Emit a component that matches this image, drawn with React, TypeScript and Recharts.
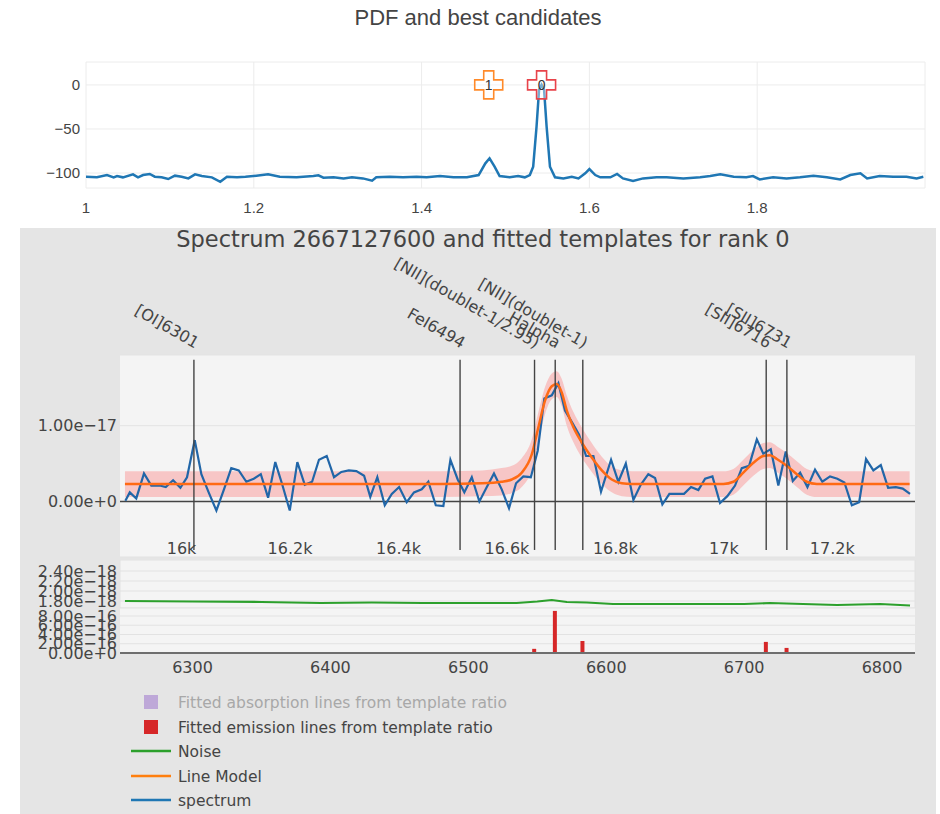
import React from "react";
import {
  ComposedChart, Line, Area, Bar, Scatter, XAxis, YAxis, CartesianGrid, ReferenceLine,
} from "recharts";

// ---- PDF panel ----
const pdfZ = [
  1.0, 1.013, 1.025, 1.033, 1.037, 1.044, 1.056, 1.062, 1.068, 1.076, 1.082, 1.09, 1.098, 1.106,
  1.114, 1.122, 1.13, 1.138, 1.15, 1.16, 1.168, 1.18, 1.19, 1.203, 1.217, 1.231, 1.251, 1.271,
  1.277, 1.283, 1.295, 1.307, 1.317, 1.33, 1.341, 1.346, 1.362, 1.378, 1.394, 1.406, 1.422, 1.438,
  1.454, 1.468, 1.476, 1.481, 1.487, 1.493, 1.505, 1.515, 1.523, 1.529, 1.533, 1.537, 1.54, 1.543,
  1.546, 1.549, 1.553, 1.559, 1.569, 1.579, 1.587, 1.595, 1.6, 1.607, 1.613, 1.625, 1.633, 1.64,
  1.652, 1.664, 1.68, 1.692, 1.712, 1.732, 1.744, 1.756, 1.772, 1.787, 1.795, 1.803, 1.819, 1.835,
  1.851, 1.867, 1.883, 1.899, 1.911, 1.923, 1.931, 1.946, 1.962, 1.978, 1.99, 1.998,
];
const pdfLogP = [
  -104.2, -104.9, -102.3, -104.9, -103.4, -104.9, -101.5, -104.9, -102.3, -101.1, -104.2, -104.9, -106.8, -103.0,
  -104.2, -106.1, -101.5, -103.4, -104.9, -110.0, -104.2, -104.9, -104.2, -103.0, -101.5, -104.2, -104.9, -103.4,
  -102.6, -105.3, -104.9, -106.1, -104.9, -106.1, -108.7, -104.9, -104.2, -104.9, -104.2, -104.9, -103.4, -104.9,
  -104.9, -102.3, -89.0, -83.3, -92.8, -103.4, -104.9, -103.4, -104.9, -102.3, -92.8, -47.3, -5.7, 0,
  -5.7, -47.3, -92.8, -104.9, -106.1, -104.2, -106.1, -100.4, -95.5, -102.3, -104.9, -104.9, -101.1, -106.1,
  -109.1, -106.1, -104.9, -104.9, -106.1, -104.9, -103.4, -101.5, -104.2, -104.9, -103.4, -107.2, -104.9, -106.1,
  -104.9, -103.0, -104.9, -107.2, -102.3, -100.4, -106.1, -103.4, -104.2, -104.2, -106.1, -104.2,
];
const candZ = [1.543, 1.48];
const candLogP = [0, 0];
const candRank = ["0", "1"];
const pdfTicksX = [1, 1.2, 1.4, 1.6, 1.8];
const pdfTicksY = [-100, -50, 0];

// ---- spectrum panel (flux in units of 1e-17) ----
const specWl = [
  6251.3, 6254.5, 6259.2, 6264.8, 6270.1, 6276.2, 6280.6, 6285.9, 6291.2, 6296.0, 6301.6, 6306.4, 6311.7, 6317.3,
  6322.8, 6328.1, 6333.5, 6339.0, 6344.4, 6349.5, 6354.8, 6360.0, 6365.1, 6370.5, 6376.0, 6381.4, 6386.7, 6391.7,
  6397.3, 6402.6, 6407.9, 6413.3, 6418.8, 6424.4, 6428.9, 6434.0, 6439.4, 6444.5, 6449.8, 6455.3, 6460.6, 6466.2,
  6471.0, 6476.4, 6481.9, 6487.0, 6492.3, 6497.1, 6502.5, 6508.0, 6513.4, 6518.6, 6524.2, 6529.5, 6534.6, 6539.9,
  6545.3, 6550.3, 6555.1, 6560.5, 6565.3, 6570.1, 6575.0, 6580.3, 6585.4, 6590.7, 6596.2, 6603.5, 6608.8, 6614.2,
  6619.7, 6625.0, 6630.5, 6635.4, 6640.7, 6645.8, 6651.1, 6656.4, 6661.5, 6666.8, 6671.7, 6677.0, 6682.5, 6687.8,
  6693.4, 6698.3, 6703.6, 6709.2, 6713.9, 6719.3, 6724.8, 6730.2, 6735.3, 6740.6, 6745.9, 6751.4, 6756.7, 6762.3,
  6767.6, 6772.7, 6778.1, 6783.4, 6788.4, 6793.7, 6799.1, 6804.4, 6810.0, 6815.0, 6820.3,
];
const specFlux = [
  0.01, 0.12, 0.04, 0.37, 0.21, 0.21, 0.19, 0.28, 0.18, 0.32, 0.81, 0.36, 0.12, -0.12,
  0.16, 0.44, 0.41, 0.26, 0.30, 0.36, 0.05, 0.52, 0.22, -0.12, 0.52, 0.22, 0.26, 0.55,
  0.60, 0.32, 0.39, 0.41, 0.40, 0.34, 0.06, 0.32, -0.05, 0.10, 0.19, -0.01, 0.12, 0.16,
  0.26, -0.05, -0.06, 0.55, 0.29, 0.12, 0.32, 0.0, 0.19, 0.37, 0.16, -0.09, 0.24, 0.33,
  0.32, 0.67, 1.36, 1.40, 1.56, 1.20, 1.05, 0.88, 0.60, 0.60, 0.13, 0.55, 0.26, 0.50,
  0.02, 0.22, 0.36, 0.31, -0.04, 0.10, 0.10, 0.10, 0.19, 0.15, 0.30, 0.33, -0.02, 0.07,
  0.21, 0.44, 0.47, 0.82, 0.63, 0.69, 0.21, 0.66, 0.27, 0.38, 0.19, 0.42, 0.26, 0.33,
  0.30, 0.25, -0.05, -0.01, 0.56, 0.41, 0.48, 0.18, 0.19, 0.17, 0.10,
];
const modelWl = [
  6251, 6300, 6400, 6480, 6510, 6524, 6531.5, 6538.7, 6546, 6550.8, 6555.6, 6560.5, 6564.1, 6567.7,
  6571.4, 6576.2, 6582.2, 6589.5, 6596.8, 6604, 6611.3, 6618.5, 6685, 6692.2, 6699.4, 6706.7, 6713.9,
  6718.8, 6723.7, 6730.9, 6738.2, 6745.4, 6752.7, 6820,
];
const modelFlux = [
  0.23, 0.23, 0.23, 0.23, 0.24, 0.26, 0.29, 0.38, 0.62, 0.98, 1.33, 1.52, 1.55, 1.44,
  1.2, 0.98, 0.78, 0.58, 0.41, 0.29, 0.24, 0.23, 0.23, 0.26, 0.38, 0.51, 0.6,
  0.61, 0.56, 0.47, 0.36, 0.26, 0.23, 0.23,
];
const modelErr = [
  0.17, 0.17, 0.17, 0.17, 0.17, 0.18, 0.18, 0.19, 0.2, 0.2, 0.18, 0.17, 0.17, 0.18,
  0.2, 0.2, 0.2, 0.19, 0.18, 0.17, 0.17, 0.17, 0.17, 0.17, 0.17, 0.17, 0.17,
  0.17, 0.17, 0.17, 0.17, 0.17, 0.17, 0.17,
];
const lineWl = [6301, 6494, 6548, 6563, 6583, 6716, 6731];
const lineNames = [
  "[OI]6301", "FeI6494", "[NII](doublet-1/2.95)", "Halpha", "[NII](doublet-1)", "[SII]6716", "[SII]6731",
];
// noise in units of 1e-18
const noiseWl = [
  6251, 6300, 6350, 6393, 6430, 6467, 6500, 6535, 6550, 6560.5, 6571.4, 6585.9, 6604.9, 6655.7,
  6700, 6718.8, 6742.7, 6767.4, 6798.6, 6820.3,
];
const noiseVal = [
  1.8, 1.79, 1.78, 1.76, 1.77, 1.76, 1.76, 1.76, 1.79, 1.82, 1.78, 1.77, 1.74, 1.74,
  1.74, 1.76, 1.74, 1.72, 1.74, 1.71,
];
// fitted emission amplitudes in units of 1e-16
const emWl = [6548, 6563, 6583, 6716, 6731];
const emAmp = [0.9, 9.1, 2.6, 2.4, 1.1];

const obsTicks = [16000, 16200, 16400, 16600, 16800, 17000, 17200];
const restTicks = [6300, 6400, 6500, 6600, 6700, 6800];
const Z_FACTOR = 2.5429;
const WL_DOMAIN = [6247.4, 6823.9];

const pdfData = pdfZ.map((z, i) => ({ z, logp: pdfLogP[i] }));
const candData = candZ.map((z, i) => ({ z, logp: candLogP[i], rank: candRank[i] }));
const specData = specWl.map((wl, i) => ({ wl, flux: specFlux[i] }));
const modelData = modelWl.map((wl, i) => ({
  wl,
  model: modelFlux[i],
  band: [modelFlux[i] - modelErr[i], modelFlux[i] + modelErr[i]],
}));
const noiseData = noiseWl.map((wl, i) => ({ wl, noise: noiseVal[i] }));
const emData = emWl.map((wl, i) => ({ wl, amp: emAmp[i] }));
const obsTicksRest = obsTicks.map((t) => t / Z_FACTOR);

const FONT_TOP = "'Liberation Sans', Arial, sans-serif";
const FONT = "'DejaVu Sans', Verdana, sans-serif";
const INK = "#444";

const legendItems = [
  { label: "Fitted absorption lines from template ratio", kind: "box", color: "#bea8d8", text: "#a8a8a8" },
  { label: "Fitted emission lines from template ratio", kind: "box", color: "#d62728", text: INK },
  { label: "Noise", kind: "line", color: "#2ca02c", text: INK },
  { label: "Line Model", kind: "line", color: "#ff7f0e", text: INK },
  { label: "spectrum", kind: "line", color: "#1f77b4", text: INK },
];

const minus = (s: string) => s.replace("-", "\u2212");

function CandidateMarker(props: any) {
  const { cx, cy, payload } = props;
  const a = 14;
  const b = 5;
  const color = payload.rank === "0" ? "#e8434a" : "#ff8a2a";
  const d = `M${cx - b},${cy - a}H${cx + b}V${cy - b}H${cx + a}V${cy + b}H${cx + b}V${cy + a}H${cx - b}V${cy + b}H${cx - a}V${cy - b}H${cx - b}Z`;
  return (
    <g>
      <path d={d} fill="rgba(255,255,255,0.4)" stroke={color} strokeWidth={1.6} />
      <text x={cx} y={cy + 5} textAnchor="middle" fontSize={14} fontFamily={FONT_TOP} fill="#333">
        {payload.rank}
      </text>
    </g>
  );
}

function lineLabel(name: string) {
  return (props: any) => {
    const vb = props.viewBox || {};
    const x = vb.x + 1;
    const y = vb.y - 11;
    return (
      <text x={x} y={y} transform={`rotate(30 ${x} ${y})`} textAnchor="end" fontSize={16} fontFamily={FONT} fill={INK}>
        {name}
      </text>
    );
  };
}

function ObsTick(props: any) {
  const { x, y, payload } = props;
  const label = Math.round(payload.value * Z_FACTOR) / 1000 + "k";
  return (
    <text x={x} y={y - 3} textAnchor="middle" fontSize={16} fontFamily={FONT} fill={INK}>
      {label}
    </text>
  );
}

function PdfChart() {
  return (
    <ComposedChart width={940} height={228} data={pdfData} margin={{ top: 62, right: 15, left: 26, bottom: 0 }}>
      <CartesianGrid stroke="#ececec" />
      <XAxis
        type="number" dataKey="z" domain={[1, 2]} ticks={pdfTicksX} interval={0} allowDataOverflow
        height={40} axisLine={false} tickLine={false} tickSize={0} tickMargin={14}
        tick={{ fontSize: 15, fontFamily: FONT_TOP, fill: INK }}
      />
      <YAxis
        type="number" domain={[-117, 26]} ticks={pdfTicksY} interval={0} allowDataOverflow width={60}
        axisLine={false} tickLine={false} tickSize={0} tickMargin={6}
        tickFormatter={(v: number) => minus(String(v))}
        tick={{ fontSize: 15, fontFamily: FONT_TOP, fill: INK }}
      />
      <Line type="linear" dataKey="logp" stroke="#1f77b4" strokeWidth={2.5} dot={false} isAnimationActive={false} />
      <Scatter data={candData} dataKey="logp" shape={(p: any) => <CandidateMarker {...p} />} isAnimationActive={false} />
    </ComposedChart>
  );
}

function SpectrumChart() {
  return (
    <ComposedChart width={940} height={331} data={modelData} margin={{ top: 127, right: 25, left: 0, bottom: 0 }}>
      <CartesianGrid vertical={false} stroke="#e3e3e3" fill="#f4f4f4" />
      <XAxis
        type="number" dataKey="wl" domain={WL_DOMAIN} ticks={obsTicksRest} interval={0} allowDataOverflow
        height={2} axisLine={false} tickLine={false} tickSize={0} tickMargin={0} tick={<ObsTick />}
      />
      <YAxis
        type="number" domain={[-0.733, 1.933]} ticks={[0, 1]} interval={0} allowDataOverflow width={120}
        axisLine={false} tickLine={false} tickSize={0} tickMargin={3}
        tickFormatter={(v: number) => (v === 0 ? "0.00e+0" : v.toFixed(2) + "e\u221217")}
        tick={{ fontSize: 16, fontFamily: FONT, fill: INK }}
      />
      <ReferenceLine y={0} stroke="#444" strokeWidth={1.5} />
      <Area type="monotone" dataKey="band" stroke="none" fill="#f7c6c6" fillOpacity={1} isAnimationActive={false} />
      <Line data={specData} type="linear" dataKey="flux" stroke="#2166a8" strokeWidth={2.2} dot={false} isAnimationActive={false} />
      <Line type="monotone" dataKey="model" stroke="#ff6a14" strokeWidth={2.5} dot={false} isAnimationActive={false} />
      {lineWl.map((wl, i) => (
        <ReferenceLine
          key={wl}
          segment={[{ x: wl, y: 1.87 }, { x: wl, y: -0.64 }]}
          stroke="#444"
          strokeWidth={1.4}
          label={lineLabel(lineNames[i])}
        />
      ))}
    </ComposedChart>
  );
}

function NoiseChart() {
  return (
    <ComposedChart width={940} height={57} data={noiseData} margin={{ top: 0, right: 25, left: 0, bottom: 8 }}>
      <CartesianGrid stroke="#e2e2e2" fill="#f4f4f4" />
      <XAxis
        type="number" dataKey="wl" domain={WL_DOMAIN} ticks={obsTicksRest} interval={0} allowDataOverflow
        height={1} axisLine={false} tickLine={false} tick={false}
      />
      <YAxis
        type="number" domain={[1.66, 2.62]} ticks={[1.8, 2.0, 2.2, 2.4]} interval={0} allowDataOverflow width={120}
        axisLine={false} tickLine={false} tickSize={0} tickMargin={3}
        tickFormatter={(v: number) => v.toFixed(2) + "e\u221218"}
        tick={{ fontSize: 16, fontFamily: FONT, fill: INK }}
      />
      <Line type="linear" dataKey="noise" stroke="#2ca02c" strokeWidth={2.2} dot={false} isAnimationActive={false} />
    </ComposedChart>
  );
}

function EmissionChart() {
  return (
    <ComposedChart width={940} height={80} data={emData} margin={{ top: 8, right: 25, left: 0, bottom: 0 }}>
      <CartesianGrid vertical={false} stroke="#e2e2e2" fill="#f4f4f4" />
      <XAxis
        type="number" dataKey="wl" domain={WL_DOMAIN} ticks={restTicks} interval={0} allowDataOverflow
        height={27} axisLine={{ stroke: "#6e6e6e", strokeWidth: 2 }} tickLine={false} tickSize={0} tickMargin={9}
        tick={{ fontSize: 16, fontFamily: FONT, fill: INK }}
      />
      <YAxis
        type="number" domain={[0, 9.73]} ticks={[0, 2, 4, 6, 8]} interval={0} allowDataOverflow width={120}
        axisLine={false} tickLine={false} tickSize={0} tickMargin={3}
        tickFormatter={(v: number) => (v === 0 ? "0.00e+0" : v.toFixed(2) + "e\u221216")}
        tick={{ fontSize: 16, fontFamily: FONT, fill: INK }}
      />
      <Bar dataKey="amp" fill="#d62728" barSize={4} isAnimationActive={false} />
    </ComposedChart>
  );
}

export default function App() {
  const legendY = [702, 727, 751, 776, 800];
  return (
    <div style={{ position: "absolute", left: 0, top: 0, width: 940, height: 814, background: "#fff", overflow: "hidden" }}>
      <svg width={940} height={814} style={{ position: "absolute", left: 0, top: 0 }}>
        <rect x={20} y={228} width={916} height={586} fill="#e5e5e5" />
        <text x={478} y={25} textAnchor="middle" fontSize={22} fontFamily={FONT_TOP} fill={INK}>
          PDF and best candidates
        </text>
        <text x={483} y={247} textAnchor="middle" fontSize={22.5} fontFamily={FONT} fill={INK}>
          Spectrum 2667127600 and fitted templates for rank 0
        </text>
        {legendItems.map((it, i) => {
          const cy = legendY[i];
          return (
            <g key={it.label}>
              {it.kind === "box" ? (
                <rect x={144} y={cy - 7} width={14} height={14} fill={it.color} />
              ) : (
                <line x1={131} x2={171} y1={cy} y2={cy} stroke={it.color} strokeWidth={2.5} />
              )}
              <text x={178} y={cy + 5.5} fontSize={15.5} fontFamily={FONT} fill={it.text}>
                {it.label}
              </text>
            </g>
          );
        })}
      </svg>
      <div style={{ position: "absolute", left: 0, top: 0 }}>
        <PdfChart />
      </div>
      <div style={{ position: "absolute", left: 0, top: 228 }}>
        <SpectrumChart />
      </div>
      <div style={{ position: "absolute", left: 0, top: 560 }}>
        <NoiseChart />
      </div>
      <div style={{ position: "absolute", left: 0, top: 600 }}>
        <EmissionChart />
      </div>
    </div>
  );
}
